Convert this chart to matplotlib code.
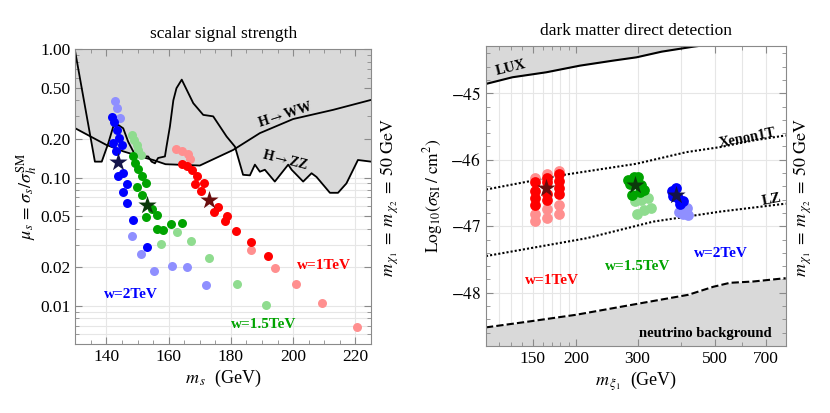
import numpy as np
import matplotlib
matplotlib.use("Agg")
import matplotlib.pyplot as plt
from matplotlib.ticker import FixedLocator, NullFormatter

plt.rcParams['font.family'] = ['Liberation Serif', 'DejaVu Serif']
plt.rcParams['mathtext.fontset'] = 'stix'

# ---- left panel: scalar signal strength ----
ww_x = [130, 139.9, 145.4, 150.8, 155, 159, 170, 180.7, 189.3, 200, 212.8, 225]
ww_y = [0.242, 0.18, 0.16, 0.146, 0.137, 0.127, 0.124, 0.164, 0.222, 0.286, 0.337, 0.403]

zz_x = [130, 136.3, 138.5, 140.6, 142.2, 143.8, 145.4, 147, 148.6, 150.8, 153.4, 154.5,
        155.6, 156.6, 158.8, 159.3, 160.4, 161.5, 162.5, 164.2, 167.9, 171.1, 174.3,
        178.6, 181.3, 183.9, 186.1, 187.7, 189.3, 190.9, 194.1, 198.4, 199.5, 203.2,
        205.9, 207.5, 211.8, 214.4, 217.1, 220.8, 225]
zz_y = [0.95, 0.133, 0.133, 0.185, 0.25, 0.257, 0.242, 0.19, 0.16, 0.146, 0.146, 0.133,
        0.129, 0.142, 0.146, 0.174, 0.25, 0.40, 0.497, 0.58, 0.38, 0.308, 0.30,
        0.209, 0.174, 0.105, 0.104, 0.126, 0.111, 0.115, 0.093, 0.126, 0.115, 0.093,
        0.108, 0.101, 0.076, 0.076, 0.090, 0.137, 0.133]

ms_blue_light = [142.6, 143.5, 144.4, 148.3, 151.0, 155.3, 161.1, 165.8, 171.9]
mu_blue_light = [0.398, 0.347, 0.293, 0.0347, 0.0255, 0.0185, 0.0203, 0.0199, 0.0146]
ms_blue_dark = [141.9, 142.4, 143.3, 144.0, 142.2, 144.9, 143.1, 145.4, 143.6, 146.5,
                145.2, 146.5, 148.6, 153.1]
mu_blue_dark = [0.295, 0.27, 0.235, 0.205, 0.185, 0.178, 0.16, 0.109, 0.102, 0.089,
                0.077, 0.063, 0.047, 0.0287]
ms_blue_star, mu_blue_star = 143.6, 0.131

ms_green_light = [148.1, 148.8, 149.7, 150.2, 151.0, 162.7, 167.2, 157.6, 173.0, 182.0, 191.2]
mu_green_light = [0.215, 0.197, 0.179, 0.164, 0.150, 0.0373, 0.0318, 0.0303, 0.0236, 0.0149, 0.0102]
ms_green_dark = [148.6, 149.2, 150.2, 151.5, 152.6, 149.9, 151.5, 154.5, 156.3, 152.7,
                 156.3, 158.2, 160.9, 164.3]
mu_green_dark = [0.148, 0.129, 0.117, 0.102, 0.090, 0.085, 0.073, 0.0567, 0.0513, 0.049,
                 0.040, 0.039, 0.0434, 0.0444]
ms_green_star, mu_green_star = 152.9, 0.061

ms_red_light = [162.5, 164.2, 166.1, 167.0, 186.4, 194.1, 200.8, 209.1, 220.5]
mu_red_light = [0.167, 0.160, 0.152, 0.139, 0.0273, 0.0197, 0.0148, 0.0105, 0.0068]
ms_red_dark = [164.3, 166.0, 167.4, 169.2, 168.4, 171.4, 170.3, 174.6, 175.9, 178.1,
               178.8, 181.5, 186.3, 191.8]
mu_red_dark = [0.128, 0.122, 0.115, 0.103, 0.089, 0.090, 0.0788, 0.0543, 0.0588, 0.046,
               0.0503, 0.0386, 0.0314, 0.0246]
ms_red_star, mu_red_star = 173.0, 0.067

# ---- right panel: direct detection ----
lux_x = [110, 131, 164, 205, 255, 298, 352, 434, 480]
lux_y = [-44.86, -44.76, -44.685, -44.585, -44.51, -44.46, -44.375, -44.30, -44.27]
xenon_x = [110, 179, 298, 415, 518, 646, 800]
xenon_y = [-46.448, -46.237, -46.06, -45.885, -45.81, -45.71, -45.634]
lz_x = [110, 214, 333, 518, 800]
lz_y = [-47.448, -47.18, -46.93, -46.78, -46.66]
nu_x = [110, 147, 200, 304, 420, 495, 553, 646, 800]
nu_y = [-48.52, -48.43, -48.33, -48.16, -48.03, -47.91, -47.85, -47.83, -47.78]

mxi_red_light = [152, 152, 152, 165, 165, 165, 178, 178, 178]
sig_red_light = [-46.28, -46.81, -46.92, -46.22, -46.74, -46.88, -46.17, -46.68, -46.81]
mxi_red_dark = [152, 152, 152, 152, 165, 165, 165, 165, 178, 178, 178, 178]
sig_red_dark = [-46.33, -46.47, -46.58, -46.68, -46.28, -46.33, -46.51, -46.61,
                -46.21, -46.32, -46.42, -46.51]
mxi_red_star, sig_red_star = 164, -46.42

mxi_green_dark = [282, 293, 301, 285, 308, 313, 305, 290]
sig_green_dark = [-46.31, -46.26, -46.26, -46.36, -46.38, -46.46, -46.48, -46.53]
mxi_green_light = [295, 308, 322, 298, 313, 327]
sig_green_light = [-46.62, -46.61, -46.58, -46.81, -46.76, -46.73]
mxi_green_star, sig_green_star = 295, -46.38

mxi_blue_dark = [376, 387, 379, 393, 406, 397]
sig_blue_dark = [-46.47, -46.43, -46.54, -46.58, -46.62, -46.66]
mxi_blue_light = [402, 415, 406, 420, 395]
sig_blue_light = [-46.71, -46.73, -46.81, -46.83, -46.78]
mxi_blue_star, sig_blue_star = 388, -46.53

blue, blue_l, blue_s = '#0000ff', '#8f8fff', '#14144a'
green, green_l, green_s = '#00a300', '#8fdc8f', '#0b3a0b'
red, red_l, red_s = '#ff0000', '#ff8f8f', '#6a0d0d'
shade = '#d9d9d9'
frame = '#8a8a8a'

fig = plt.figure(figsize=(8.3, 4.13), dpi=100)
ax1 = fig.add_axes([0.0907, 0.1663, 0.3563, 0.7143])
ax2 = fig.add_axes([0.5855, 0.1622, 0.3611, 0.7264])

for ax in (ax1, ax2):
    for sp in ax.spines.values():
        sp.set_color(frame)
        sp.set_linewidth(0.8)
    ax.tick_params(which='both', direction='in', top=True, right=True, color=frame,
                   labelsize=12.5)
    ax.tick_params(which='major', length=5)
    ax.tick_params(which='minor', length=3)

# left panel
ax1.set_yscale('log')
ax1.set_xlim(130, 225)
ax1.set_ylim(0.005, 1.0)
for v in [140, 160, 180, 200, 220]:
    ax1.axvline(v, color='#e6e6e6', lw=0.8, zorder=0)
for v in list(np.arange(6, 10) * 1e-3) + list(np.arange(1, 10) * 1e-2) + list(np.arange(1, 10) * 1e-1):
    ax1.axhline(v, color='#e6e6e6', lw=0.8, zorder=0)
ax1.fill_between(ww_x, ww_y, 1.0, color=shade, lw=0, zorder=1)
ax1.fill_between(zz_x, zz_y, 1.0, color=shade, lw=0, zorder=1)
ax1.plot(ww_x, ww_y, color='k', lw=1.3, zorder=2)
ax1.plot(zz_x, zz_y, color='k', lw=1.3, zorder=2)

dot = 42
star = 190
ax1.scatter(ms_blue_light, mu_blue_light, s=dot, color=blue_l, lw=0, zorder=3)
ax1.scatter(ms_green_light, mu_green_light, s=dot, color=green_l, lw=0, zorder=3)
ax1.scatter(ms_red_light, mu_red_light, s=dot, color=red_l, lw=0, zorder=3)
ax1.scatter(ms_blue_dark, mu_blue_dark, s=dot, color=blue, lw=0, zorder=4)
ax1.scatter(ms_green_dark, mu_green_dark, s=dot, color=green, lw=0, zorder=4)
ax1.scatter(ms_red_dark, mu_red_dark, s=dot, color=red, lw=0, zorder=4)
ax1.scatter([ms_blue_star], [mu_blue_star], s=star, marker='*', color=blue_s, lw=0, zorder=5)
ax1.scatter([ms_green_star], [mu_green_star], s=star, marker='*', color=green_s, lw=0, zorder=5)
ax1.scatter([ms_red_star], [mu_red_star], s=star, marker='*', color=red_s, lw=0, zorder=5)

ax1.text(197.5, 0.31, r'H$\rightarrow$WW', rotation=18, ha='center', va='center',
         fontsize=10, fontweight='bold')
ax1.text(197.5, 0.138, r'H$\rightarrow$ZZ', rotation=-14, ha='center', va='center',
         fontsize=10, fontweight='bold')
ax1.text(210, 0.0205, 'w=1TeV', color=red, ha='center', va='center', fontsize=11, fontweight='bold')
ax1.text(148, 0.0122, 'w=2TeV', color=blue, ha='center', va='center', fontsize=11, fontweight='bold')
ax1.text(190.5, 0.0071, 'w=1.5TeV', color=green, ha='center', va='center', fontsize=11, fontweight='bold')

ax1.set_xticks([140, 160, 180, 200, 220])
ax1.xaxis.set_minor_locator(FixedLocator(np.arange(130, 226, 5)))
yt = [0.01, 0.02, 0.05, 0.1, 0.2, 0.5, 1.0]
ax1.set_yticks(yt)
ax1.set_yticklabels(['0.01', '0.02', '0.05', '0.10', '0.20', '0.50', '1.00'])
ax1.yaxis.set_minor_formatter(NullFormatter())
ax1.set_title('scalar signal strength', fontsize=12.5, pad=8)
ax1.set_xlabel(r'$m_{\,s}$  (GeV)', fontsize=13, labelpad=2)
ax1.set_ylabel(r'$\mu_s\,=\,\sigma_s/\sigma_h^{\mathrm{SM}}$', fontsize=13, labelpad=1)

# right panel
ax2.set_xscale('log')
ax2.set_xlim(110, 800)
ax2.set_ylim(-48.8, -44.29)
for v in [120, 130, 140, 150, 160, 170, 180, 190, 200, 300, 400, 500, 600, 700]:
    ax2.axvline(v, color='#e6e6e6', lw=0.8, zorder=0)
for v in [-48, -47, -46, -45]:
    ax2.axhline(v, color='#e6e6e6', lw=0.8, zorder=0)
ax2.fill_between(lux_x, lux_y, -44.0, color=shade, lw=0, zorder=1)
ax2.fill_between(nu_x, -49.0, nu_y, color=shade, lw=0, zorder=1)
ax2.plot(lux_x, lux_y, color='k', lw=1.5, zorder=2)
ax2.plot(xenon_x, xenon_y, color='k', lw=1.5, ls=(0, (1, 1)), zorder=2)
ax2.plot(lz_x, lz_y, color='k', lw=1.5, ls=(0, (1, 1)), zorder=2)
ax2.plot(nu_x, nu_y, color='k', lw=1.5, ls=(0, (3.5, 1.5)), zorder=2)

dot2 = 60
ax2.scatter(mxi_red_light, sig_red_light, s=dot2, color=red_l, lw=0, zorder=3)
ax2.scatter(mxi_green_light, sig_green_light, s=dot2, color=green_l, lw=0, zorder=3)
ax2.scatter(mxi_blue_light, sig_blue_light, s=dot2, color=blue_l, lw=0, zorder=3)
ax2.scatter(mxi_red_dark, sig_red_dark, s=dot2, color=red, lw=0, zorder=4)
ax2.scatter(mxi_green_dark, sig_green_dark, s=dot2, color=green, lw=0, zorder=4)
ax2.scatter(mxi_blue_dark, sig_blue_dark, s=dot2, color=blue, lw=0, zorder=4)
ax2.scatter([mxi_red_star], [sig_red_star], s=star, marker='*', color=red_s, lw=0, zorder=5)
ax2.scatter([mxi_green_star], [sig_green_star], s=star, marker='*', color=green_s, lw=0, zorder=5)
ax2.scatter([mxi_blue_star], [sig_blue_star], s=star, marker='*', color=blue_s, lw=0, zorder=5)

ax2.text(130, -44.62, 'LUX', rotation=14, ha='center', va='center', fontsize=10.5, fontweight='bold')
ax2.text(622, -45.67, 'Xenon1T', rotation=11, ha='center', va='center', fontsize=10.5, fontweight='bold')
ax2.text(728, -46.6, 'LZ', rotation=11, ha='center', va='center', fontsize=10.5, fontweight='bold')
ax2.text(470, -48.61, 'neutrino background', ha='center', va='center', fontsize=10.5, fontweight='bold')
ax2.text(170, -47.81, 'w=1TeV', color=red, ha='center', va='center', fontsize=11, fontweight='bold')
ax2.text(300, -47.61, 'w=1.5TeV', color=green, ha='center', va='center', fontsize=11, fontweight='bold')
ax2.text(520, -47.41, 'w=2TeV', color=blue, ha='center', va='center', fontsize=11, fontweight='bold')

ax2.xaxis.set_major_locator(FixedLocator([150, 200, 300, 500, 700]))
ax2.xaxis.set_minor_locator(FixedLocator([120, 130, 140, 160, 170, 180, 190, 400, 600]))
ax2.set_xticklabels(['150', '200', '300', '500', '700'])
ax2.xaxis.set_minor_formatter(NullFormatter())
ax2.set_yticks([-48, -47, -46, -45])
ax2.set_yticklabels(['$-48$', '$-47$', '$-46$', '$-45$'])
ax2.yaxis.set_minor_locator(FixedLocator(np.arange(-48.6, -44.3, 0.2)))
ax2.set_title('dark matter direct detection', fontsize=12.5, pad=8)
ax2.set_xlabel(r'$m_{\,\xi_1}$  (GeV)', fontsize=13, labelpad=2)
ax2.set_ylabel(r'$\mathrm{Log}_{10}(\sigma_{\mathrm{SI}}\;/\;\mathrm{cm}^2)$', fontsize=12.5, labelpad=4)

side = r'$m_{\,\chi_1}\;=\;m_{\,\chi_2}\;=\;50\ \mathrm{GeV}$'
fig.text(0.470, 0.523, side, rotation=90, ha='center', va='center', fontsize=13)
fig.text(0.967, 0.523, side, rotation=90, ha='center', va='center', fontsize=13)

fig.savefig('out.png', dpi=100)
